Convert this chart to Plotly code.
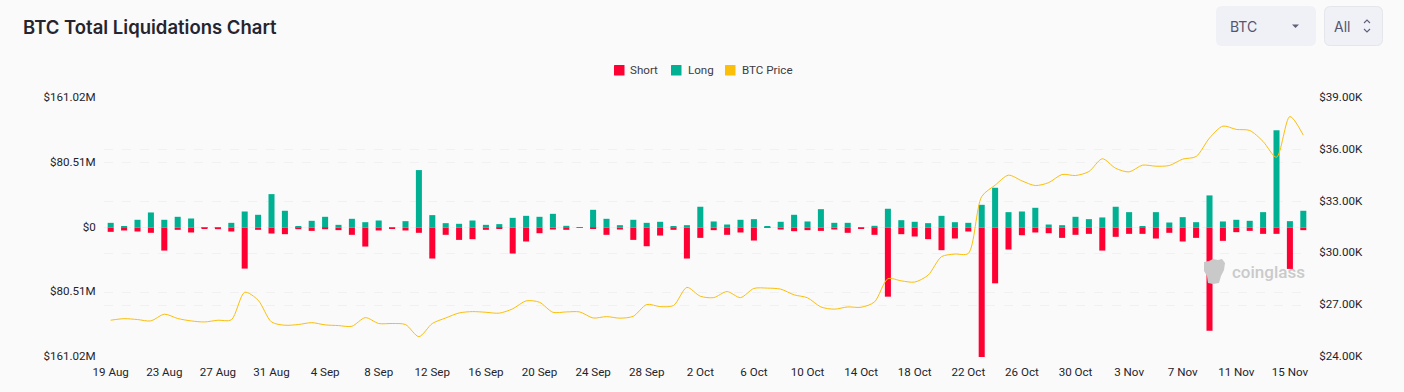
import pandas as pd
import plotly.graph_objects as go

W, H = 1404, 392

days = pd.date_range("2023-08-19", periods=90)
categories = [f"{d.day} {d:%b}" for d in days]
tick_labels_x = categories[::4][:23]

long_m = [5.8,1.7,9.6,18.7,9.6,13.3,11.2,0.4,0.4,5.8,
          19.9,15.8,41.5,20.8,0.8,8.3,13.3,3.3,10.8,6.6,
          8.7,0.4,7.9,71.4,15.4,5.4,4.6,8.7,3.3,4.2,
          12.0,14.5,13.3,17.0,2.1,0.4,22.0,10.8,2.9,9.6,
          5.8,7.1,0.8,2.9,25.8,7.5,3.7,9.6,10.4,0.8,
          7.1,15.8,7.5,22.8,5.8,5.8,0.4,2.1,23.3,9.1,
          7.1,5.4,14.5,6.6,5.8,28.2,49.4,19.1,19.9,24.5,
          3.7,2.9,13.3,10.4,12.5,25.8,19.1,0.8,19.1,6.2,
          12.9,6.6,39.9,7.5,9.6,8.3,19.1,120.9,7.9,20.8]

short_m = [5.4,3.7,5.0,6.6,28.7,2.9,6.2,0.8,2.1,5.0,
           51.1,2.9,7.5,8.3,2.1,4.2,2.1,3.3,9.1,23.7,
           3.7,0.8,3.7,6.6,38.6,9.1,15.4,14.5,2.9,1.2,
           32.4,17.4,7.1,2.5,2.9,0.4,1.7,9.1,2.5,15.4,
           23.3,10.0,2.9,38.6,12.9,3.3,9.1,6.2,16.2,0.4,
           2.5,4.6,3.3,4.2,2.5,6.6,1.7,9.1,86.0,8.3,
           11.2,14.5,28.2,13.7,5.0,162.0,69.4,27.4,9.6,6.2,
           7.1,12.9,9.1,7.9,28.7,11.6,7.9,7.9,13.7,6.6,
           17.4,12.9,128.4,16.6,5.8,4.2,7.9,7.9,51.5,3.3]

price_k = [26.13,26.22,26.17,26.09,26.48,26.23,26.09,26.03,26.13,26.15,
           27.75,27.29,26.03,25.84,25.88,25.99,25.86,25.82,25.78,26.28,
           25.94,25.94,25.88,25.18,25.94,26.26,26.55,26.63,26.59,26.54,
           26.79,27.25,27.17,26.59,26.61,26.61,26.26,26.34,26.25,26.36,
           27.04,26.92,26.98,28.03,27.52,27.44,27.79,27.44,27.97,27.99,
           27.93,27.60,27.43,26.90,26.77,26.90,26.88,27.19,28.53,28.41,
           28.34,28.74,29.81,29.96,30.00,33.29,33.95,34.53,34.20,33.93,
           34.10,34.57,34.51,34.74,35.48,34.93,34.72,35.11,35.05,35.09,
           35.46,35.61,36.68,37.37,37.18,37.12,36.48,35.57,37.93,36.85]

left_ticks = [161.02, 80.51, 0, -80.51, -161.02]
left_labels = ["$161.02M", "$80.51M", "$0", "$80.51M", "$161.02M"]
right_ticks = [39, 36, 33, 30, 27, 24]
right_labels = ["$39.00K", "$36.00K", "$33.00K", "$30.00K", "$27.00K", "$24.00K"]
legend_names = ["Short", "Long", "BTC Price"]

RED, GREEN, GOLD = "#ff0033", "#00b092", "#fbbf0a"
TXT = "#23232b"
GRID = "#f1f1f1"
FONT = "Roboto"
TICK = 11.6
M_L, M_R, M_T, M_B = 104, 94, 98, 35


def px(x):
    return (x - M_L) / (W - M_L - M_R)


def py(y):
    return 1 - (y - M_T) / (H - M_T - M_B)


def rrect(x0, y0, x1, y1, r):
    return (f"M{px(x0+r)},{py(y0)} L{px(x1-r)},{py(y0)} Q{px(x1)},{py(y0)} {px(x1)},{py(y0+r)} "
            f"L{px(x1)},{py(y1-r)} Q{px(x1)},{py(y1)} {px(x1-r)},{py(y1)} L{px(x0+r)},{py(y1)} "
            f"Q{px(x0)},{py(y1)} {px(x0)},{py(y1-r)} L{px(x0)},{py(y0+r)} Q{px(x0)},{py(y0)} {px(x0+r)},{py(y0)} Z")


def poly(points, close=True):
    s = "M" + " L".join(f"{px(a)},{py(b)}" for a, b in points)
    return s + (" Z" if close else "")


def path_shape(path, fill="rgba(0,0,0,0)", line=None, width=0, layer="above"):
    return dict(type="path", xref="paper", yref="paper", path=path, fillcolor=fill,
                line=dict(color=line or "rgba(0,0,0,0)", width=width), layer=layer)


def text(x, y, s, size=12, color=TXT, family=FONT, weight=None, anchor="left"):
    f = dict(size=size, color=color, family=family)
    if weight:
        f["weight"] = weight
    return dict(x=px(x), y=py(y), xref="paper", yref="paper", text=s, showarrow=False,
                xanchor=anchor, yanchor="middle", font=f, xshift=-1 if anchor == "left" else 0)


fig = go.Figure()
fig.add_bar(x=categories, y=[-v for v in short_m], name="Short", marker=dict(color=RED, line_width=0))
fig.add_bar(x=categories, y=long_m, name="Long", marker=dict(color=GREEN, line_width=0))
fig.add_scatter(x=categories, y=price_k, name="BTC Price", yaxis="y2", mode="lines",
                line=dict(color=GOLD, width=1, shape="spline", smoothing=0.8))

shapes = [
    path_shape(rrect(1216, 6, 1316, 46, 6), fill="#eff1f7"),
    path_shape(rrect(1324.5, 6.5, 1382.5, 45.5, 6), fill="#eff1f7", line="#e4e6eb", width=1),
    path_shape(poly([(1292, 24.5), (1299, 24.5), (1295.5, 28)]), fill="#5f5f78"),
    path_shape(poly([(1364, 23), (1367, 20), (1370, 23)], close=False), line="#5f5f78", width=1.1),
    path_shape(poly([(1364, 29), (1367, 32), (1370, 29)], close=False), line="#5f5f78", width=1.1),
    path_shape(rrect(614, 65, 624.5, 75.5, 0.5), fill=RED),
    path_shape(rrect(671, 65, 681.5, 75.5, 0.5), fill=GREEN),
    path_shape(rrect(725, 65, 735.5, 75.5, 0.5), fill=GOLD),
    path_shape(poly([(1204, 262), (1209, 261), (1213, 259), (1218, 260), (1222, 259), (1225, 263),
                     (1224, 270), (1221, 276), (1219, 283), (1213, 284), (1208, 283), (1207, 276),
                     (1204, 271)]), fill="#c9c9c9"),
]

annotations = [
    text(22, 27, "BTC Total Liquidations Chart", size=18.5, color="#25252f", family="Inter", weight=600),
    text(1229, 26, "BTC", size=14, color="#55556e", family="Inter"),
    text(1333, 26, "All", size=14, color="#55556e", family="Inter"),
    text(629, 70, legend_names[0], size=11.6, color="#3a3a44"),
    text(687, 70, legend_names[1], size=11.6, color="#3a3a44"),
    text(741, 70, legend_names[2], size=11.6, color="#3a3a44"),
    text(1231, 272, "coinglass", size=17, color="#cacaca", weight=500),
]

fig.update_layout(
    width=W, height=H, autosize=False,
    margin=dict(l=M_L, r=M_R, t=M_T, b=M_B, pad=0),
    paper_bgcolor="#fafafa", plot_bgcolor="#fafafa",
    barmode="relative", bargap=0.55, showlegend=False,
    font=dict(family=FONT, size=12, color=TXT),
    shapes=shapes, annotations=annotations,
    xaxis=dict(type="category", categoryorder="array", categoryarray=categories,
               range=[-0.5, 89.5], tickmode="array", tickvals=tick_labels_x, ticktext=tick_labels_x,
               showgrid=False, zeroline=False, showline=False, tickangle=0,
               ticks="outside", ticklen=4, tickcolor="rgba(0,0,0,0)", tickfont=dict(size=TICK, color=TXT)),
    yaxis=dict(range=[-161.02, 161.02], tickmode="array", tickvals=left_ticks, ticktext=left_labels,
               showgrid=True, gridcolor=GRID, griddash="dash", gridwidth=1, zeroline=False, showline=False,
               ticks="outside", ticklen=5, tickcolor="rgba(0,0,0,0)", tickfont=dict(size=TICK, color=TXT),
               ticklabelshift=-1),
    yaxis2=dict(range=[24, 39], overlaying="y", side="right", tickmode="array",
                tickvals=right_ticks, ticktext=right_labels,
                showgrid=True, gridcolor=GRID, griddash="dash", gridwidth=1, zeroline=False, showline=False,
                ticks="outside", ticklen=6, tickcolor="rgba(0,0,0,0)", tickfont=dict(size=TICK, color=TXT),
                ticklabelshift=-1),
)

fig.write_html("out.html", config={"displayModeBar": False},
               post_script="document.body.style.margin='0';document.body.style.overflow='hidden';")
